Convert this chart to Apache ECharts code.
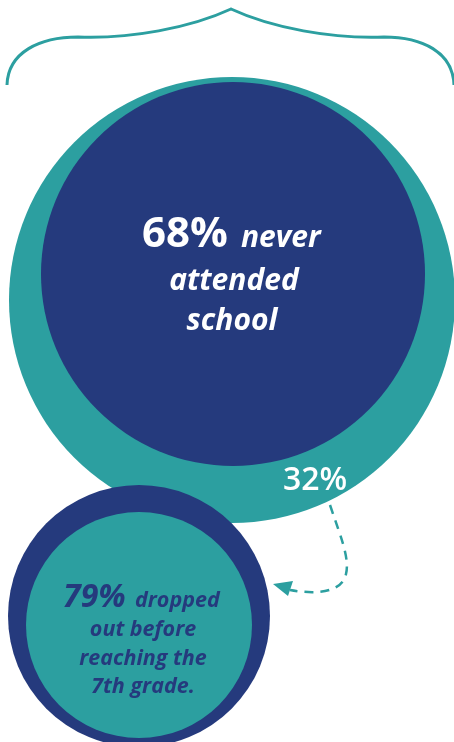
<!DOCTYPE html>
<html>
<head>
<meta charset="utf-8">
<script src="https://cdn.jsdelivr.net/npm/echarts@6/dist/echarts.min.js"></script>
<style>
html,body{margin:0;padding:0;background:#fff;}
#chart{width:454px;height:742px;}
</style>
</head>
<body>
<div id="chart"></div>
<script>
// ---- data ----
const neverAttendedPct = 68;
const attendedPct = 32;
const droppedOutPct = 79;
const neverAttendedWords = ['never', 'attended', 'school'];
const droppedOutWords = ['dropped', 'out before', 'reaching the', '7th grade.'];

// ---- style ----
const TEAL = '#2c9fa0';
const NAVY = '#253a7d';
const FONT = '"Open Sans"';

function txt(x, y, text, fill, font, align) {
  return {type: 'text', x: x, y: y,
    style: {text: text, fill: fill, font: font,
      textAlign: align, align: align, textVerticalAlign: 'bottom', verticalAlign: 'bottom'}};
}

function renderAll() {
  return {type: 'group', children: [
    {type: 'path', shape: {pathData: 'M7,85 C8,52 40,37 78,37 C130,39 190,28 231,9 C272,28 332,39 384,37 C422,37 453,52 454,85'},
     style: {fill: 'none', stroke: TEAL, lineWidth: 3}},
    {type: 'circle', shape: {cx: 232, cy: 300, r: 223}, style: {fill: TEAL}},
    {type: 'circle', shape: {cx: 233, cy: 274, r: 192}, style: {fill: NAVY}},
    txt(142, 256, neverAttendedPct + '%', '#fff', 'bold 42px ' + FONT, 'left'),
    txt(241, 253.5, neverAttendedWords[0], '#fff', 'italic bold 30px ' + FONT, 'left'),
    txt(234, 296, neverAttendedWords[1], '#fff', 'italic bold 30px ' + FONT, 'center'),
    txt(232, 336, neverAttendedWords[2], '#fff', 'italic bold 30px ' + FONT, 'center'),
    txt(315, 497, attendedPct + '%', '#fff', '600 32px ' + FONT, 'center'),
    {type: 'path', shape: {pathData: 'M330,505 C340,535 350,558 346,574 C342,592 318,595 290,590'},
     style: {fill: 'none', stroke: TEAL, lineWidth: 2.5, lineDash: [9, 7]}},
    {type: 'polygon', shape: {points: [[273, 584], [293, 581], [288, 596]]}, style: {fill: TEAL}},
    {type: 'circle', shape: {cx: 139, cy: 616, r: 131}, style: {fill: NAVY}},
    {type: 'circle', shape: {cx: 139, cy: 625, r: 113}, style: {fill: TEAL}},
    txt(63, 614, droppedOutPct + '%', NAVY, 'italic bold 32px ' + FONT, 'left'),
    txt(135, 611.5, droppedOutWords[0], NAVY, 'italic bold 21.5px ' + FONT, 'left'),
    txt(143, 640.5, droppedOutWords[1], NAVY, 'italic bold 21.5px ' + FONT, 'center'),
    txt(143, 669.5, droppedOutWords[2], NAVY, 'italic bold 21.5px ' + FONT, 'center'),
    txt(143, 697.5, droppedOutWords[3], NAVY, 'italic bold 21.5px ' + FONT, 'center')
  ]};
}

const chart = echarts.init(document.getElementById('chart'), null, {renderer: 'canvas'});
chart.setOption({
  animation: false,
  backgroundColor: '#fff',
  series: [{
    type: 'custom',
    coordinateSystem: 'none',
    data: [[neverAttendedPct, attendedPct, droppedOutPct]],
    renderItem: renderAll
  }]
});
</script>
</body>
</html>
